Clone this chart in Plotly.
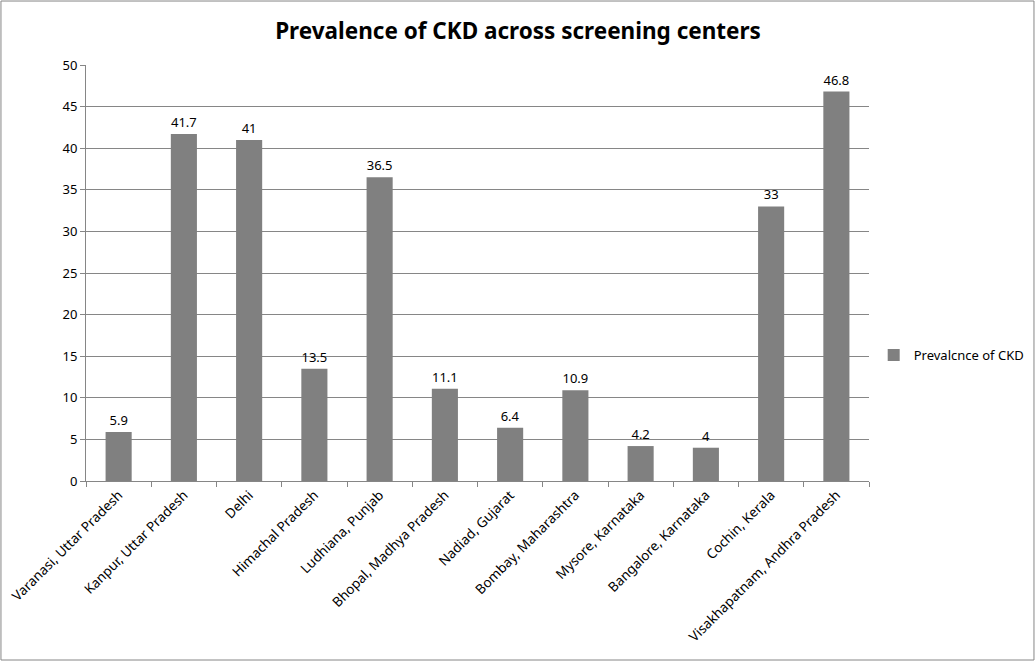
import plotly.graph_objects as go

centers = ["Varanasi, Uttar Pradesh", "Kanpur, Uttar Pradesh", "Delhi", "Himachal Pradesh",
           "Ludhiana, Punjab", "Bhopal, Madhya Pradesh", "Nadiad, Gujarat", "Bombay, Maharashtra",
           "Mysore, Karnataka", "Bangalore, Karnataka", "Cochin, Kerala",
           "Visakhapatnam, Andhra Pradesh"]
prevalence = [5.9, 41.7, 41, 13.5, 36.5, 11.1, 6.4, 10.9, 4.2, 4, 33, 46.8]
y_ticks = [0, 5, 10, 15, 20, 25, 30, 35, 40, 45, 50]

FONT = "Noto Sans"

fig = go.Figure()
fig.add_trace(go.Bar(
    x=centers, y=prevalence, name="Prevalcnce of CKD",
    marker=dict(color="#808080", line=dict(width=0)),
    text=[str(v) for v in prevalence], textposition="outside",
    textfont=dict(family=FONT, size=13, color="#000000"),
    cliponaxis=False, showlegend=True,
))

fig.update_layout(
    width=1036, height=662,
    margin=dict(l=86, r=167, t=65, b=181, autoexpand=False),
    paper_bgcolor="white", plot_bgcolor="white",
    bargap=0.6,
    title=dict(text="<b>Prevalence of CKD across screening centers</b>",
               x=0.5, xanchor="center", y=0.953, yanchor="middle",
               font=dict(family=FONT, size=22.5, color="#000000")),
    font=dict(family=FONT, size=13, color="#000000"),
    showlegend=True,
    legend=dict(x=1.006, xanchor="left", y=0.303, yanchor="middle",
                font=dict(family=FONT, size=13, color="#000000"),
                bgcolor="rgba(0,0,0,0)"),
    xaxis=dict(tickangle=-45, showgrid=False, showline=True, linecolor="#868686",
               linewidth=1, ticks="outside", ticklen=5, tickcolor="#868686",
               tickson="boundaries", automargin=False,
               tickfont=dict(family=FONT, size=13.5, color="#000000")),
    yaxis=dict(range=[0, 50], tickvals=y_ticks, showgrid=True, gridcolor="#868686",
               gridwidth=1, showline=True, linecolor="#868686", linewidth=1,
               ticks="outside", ticklen=5, tickcolor="#868686", zeroline=False,
               automargin=False,
               tickfont=dict(family=FONT, size=13, color="#000000")),
    shapes=[dict(type="rect", xref="paper", yref="paper",
                 x0=-0.1086, x1=1.2107, y0=-0.4303, y1=1.1538,
                 line=dict(color="#868686", width=1), fillcolor="rgba(0,0,0,0)",
                 layer="below")],
)

fig.write_html("out.html", config={"displayModeBar": False},
               post_script="document.body.style.margin='0';document.body.style.overflow='hidden';")
